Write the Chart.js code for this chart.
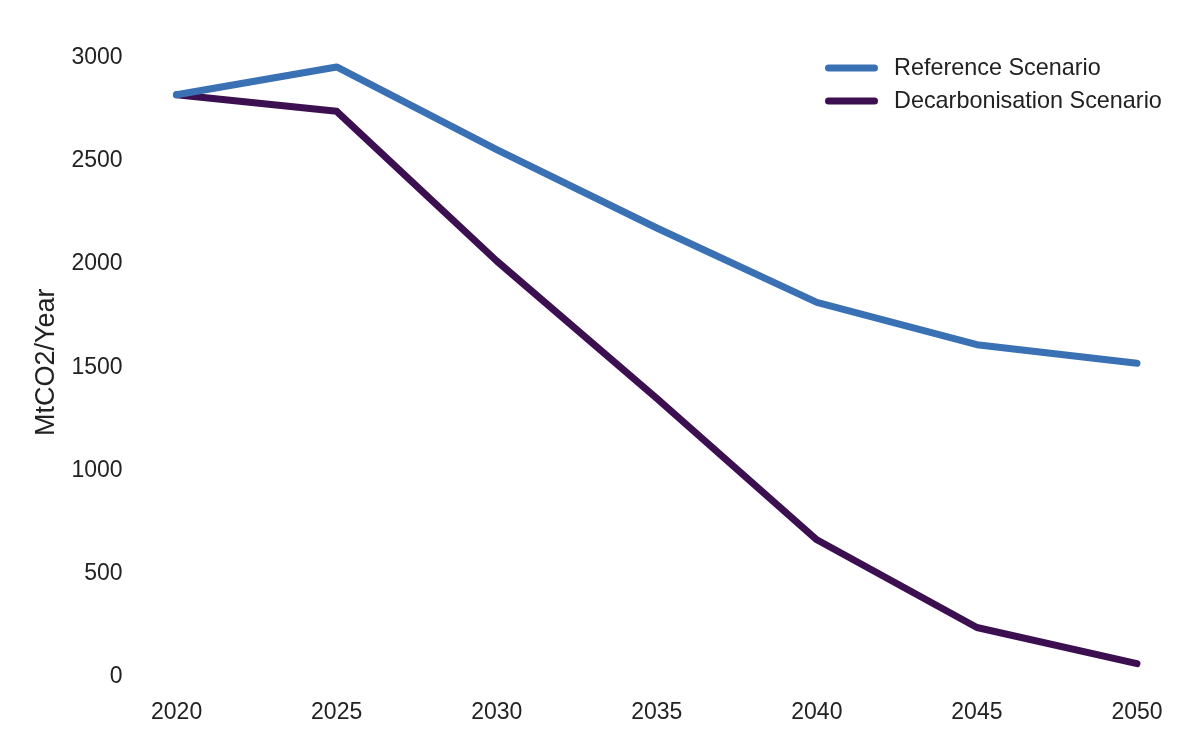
<!DOCTYPE html>
<html>
<head>
<meta charset="utf-8">
<script src="https://cdn.jsdelivr.net/npm/chart.js@4.4.1/dist/chart.umd.min.js"></script>
<style>
  html, body { margin: 0; padding: 0; background: #fff; }
  #wrap { width: 1200px; height: 753px; }
</style>
</head>
<body>
<div id="wrap"><canvas id="chart"></canvas></div>
<script>
// values
const years = [2020, 2025, 2030, 2035, 2040, 2045, 2050];
const reference = [2820, 2955, 2555, 2175, 1815, 1610, 1520];
const decarbonisation = [2820, 2740, 2015, 1350, 665, 240, 65];
const yTicks = [0, 500, 1000, 1500, 2000, 2500, 3000];

const blue = '#3a70b4';
const purple = '#3b0f50';
const textColor = '#222222';
const fontFamily = '"Liberation Sans", Arial, sans-serif';

const toPoints = (vals) => years.map((y, i) => ({ x: y, y: vals[i] }));

Chart.defaults.font.family = fontFamily;
Chart.defaults.color = textColor;

// legend drawn inside the plot, top right, like the original
const insideLegend = {
  id: 'insideLegend',
  afterDraw(chart) {
    const c = chart.ctx;
    const x0 = 825, x1 = 878, tx = 894;
    const rows = [68, 101];
    c.save();
    c.font = '23.4px ' + fontFamily;
    c.textBaseline = 'middle';
    c.textAlign = 'left';
    chart.data.datasets.forEach((ds, i) => {
      const y = rows[i];
      c.strokeStyle = ds.borderColor;
      c.lineWidth = 7;
      c.lineCap = 'round';
      c.beginPath();
      c.moveTo(x0 + 3.5, y);
      c.lineTo(x1 - 3.5, y);
      c.stroke();
      c.fillStyle = textColor;
      c.fillText(ds.label, tx, y + 1);
    });
    c.restore();
  }
};

const ctx = document.getElementById('chart').getContext('2d');
const chart = new Chart(ctx, {
  type: 'line',
  data: {
    datasets: [
      {
        label: 'Reference Scenario',
        data: toPoints(reference),
        borderColor: blue,
        backgroundColor: blue,
        borderWidth: 7,
        pointRadius: 0,
        tension: 0,
        borderCapStyle: 'round',
        borderJoinStyle: 'round'
      },
      {
        label: 'Decarbonisation Scenario',
        data: toPoints(decarbonisation),
        borderColor: purple,
        backgroundColor: purple,
        borderWidth: 7,
        pointRadius: 0,
        tension: 0,
        borderCapStyle: 'round',
        borderJoinStyle: 'round'
      }
    ]
  },
  plugins: [insideLegend],
  options: {
    responsive: true,
    maintainAspectRatio: false,
    animation: false,
    layout: { padding: { left: 30, right: 15, top: 37, bottom: 16 } },
    plugins: {
      tooltip: { enabled: false },
      legend: { display: false }
    },
    scales: {
      x: {
        type: 'linear',
        min: 2018.5,
        max: 2051.5,
        afterBuildTicks: (axis) => { axis.ticks = years.map(v => ({ value: v })); },
        grid: { display: false, drawTicks: false },
        border: { display: false },
        ticks: { font: { size: 23 }, padding: 11, maxRotation: 0, callback: v => String(v) }
      },
      y: {
        min: -50,
        max: 3100,
        afterBuildTicks: (axis) => { axis.ticks = yTicks.map(v => ({ value: v })); },
        grid: { display: false, drawTicks: false },
        border: { display: false },
        title: { display: true, text: 'MtCO2/Year', font: { size: 27 }, padding: { top: 0, bottom: 3 } },
        ticks: { font: { size: 23 }, padding: 6, callback: v => String(v) }
      }
    }
  }
});
</script>
</body>
</html>
